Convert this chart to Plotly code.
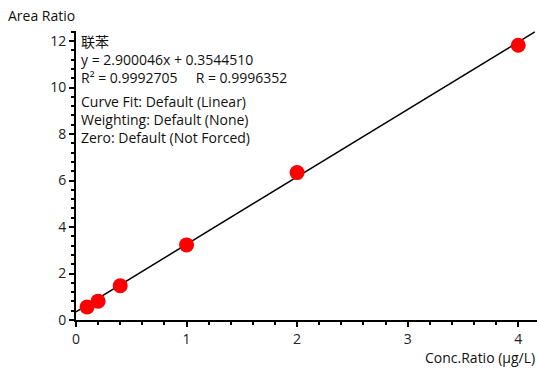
import plotly.graph_objects as go

# Calibration standards: concentration ratio vs. measured area ratio
conc_ratio = [0.1, 0.2, 0.4, 1.0, 2.0, 4.0]
area_ratio = [0.56, 0.81, 1.47, 3.23, 6.34, 11.82]

# Linear fit coefficients reported for the curve
compound = "联苯"
slope = 2.900046
intercept = 0.3544510
r_squared = 0.9992705
r_value = 0.9996352
fit_x = [0.0, 4.15]
fit_y = [slope * x + intercept for x in fit_x]

fit_notes = [
    "Curve Fit: Default (Linear)",
    "Weighting: Default (None)",
    "Zero: Default (Not Forced)",
]

W, H = 537, 372
L, R, T, B = 76, 0, 31, 52
plot_w, plot_h = W - L - R, H - T - B

x_range = [0, 4.17]
y_range = [0, 12.43]

FONT = "Open Sans, Noto Sans CJK SC, sans-serif"
FS = 14


def px_to_paper(px, py):
    return (px - L) / plot_w, (H - B - py) / plot_h


fig = go.Figure()
fig.add_trace(go.Scatter(
    x=fit_x, y=fit_y, mode="lines",
    line=dict(color="black", width=1.5), hoverinfo="skip",
))
fig.add_trace(go.Scatter(
    x=conc_ratio, y=area_ratio, mode="markers",
    marker=dict(color="#ff0000", size=15, line=dict(width=0)),
))

axis_common = dict(
    showgrid=False, zeroline=False, showline=True, linecolor="black",
    linewidth=2, ticks="outside", ticklen=5, tickwidth=2, tickcolor="black",
    tickfont=dict(family=FONT, size=FS, color="#222"),
)
fig.update_xaxes(range=x_range, dtick=1, tick0=0,
                 minor=dict(dtick=0.2, ticks="outside", ticklen=3,
                            tickwidth=2, tickcolor="black"),
                 **axis_common)
fig.update_yaxes(range=y_range, dtick=2, tick0=0,
                 minor=dict(dtick=0.4, ticks="outside", ticklen=3,
                            tickwidth=2, tickcolor="black"),
                 **axis_common)

annotations = []


def add_text(text, px, py, xanchor="left", size=FS):
    x, y = px_to_paper(px, py)
    annotations.append(dict(
        text=text, x=x, y=y, xref="paper", yref="paper",
        xanchor=xanchor, yanchor="middle", align="left", showarrow=False,
        borderpad=0, font=dict(family=FONT, size=size, color="#111"),
    ))


add_text("Area Ratio", 7, 15)
add_text("Conc.Ratio (µg/L)", 536, 357, xanchor="right")

gap = "\u00a0" * 5
equation_block = "<br>".join([
    compound,
    f"y = {slope:.6f}x + {intercept:.7f}",
    f"R² = {r_squared:.7f}{gap}R = {r_value:.7f}",
])
add_text(equation_block, 80, 59)
add_text("<br>".join(fit_notes), 80, 119.5)

fig.update_layout(
    width=W, height=H,
    margin=dict(l=L, r=R, t=T, b=B),
    plot_bgcolor="white", paper_bgcolor="white",
    showlegend=False, annotations=annotations,
)

fig.write_html("out.html")
